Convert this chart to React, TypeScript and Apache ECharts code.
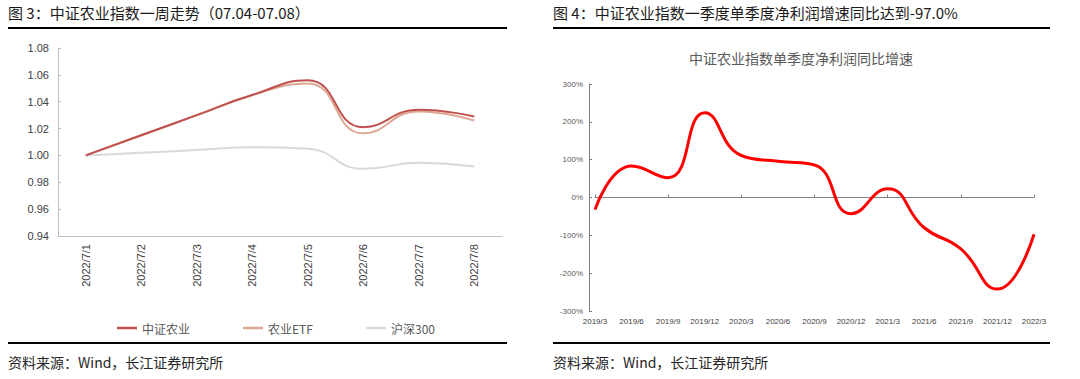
import React, { useEffect, useRef } from "react";
import * as echarts from "echarts";

const dates = ["2022/7/1", "2022/7/2", "2022/7/3", "2022/7/4", "2022/7/5", "2022/7/6", "2022/7/7", "2022/7/8"];
const csAgri = [1.0, 1.015, 1.03, 1.045, 1.056, 1.021, 1.034, 1.029];
const agriEtf = [1.0, 1.015, 1.03, 1.045, 1.0535, 1.0165, 1.0328, 1.026];
const hs300 = [1.0, 1.002, 1.004, 1.006, 1.005, 0.99, 0.9945, 0.9918];
const leftTicks = { min: 0.94, max: 1.08, step: 0.02 };

const quarters = ["2019/3", "2019/6", "2019/9", "2019/12", "2020/3", "2020/6", "2020/9", "2020/12", "2021/3", "2021/6", "2021/9", "2021/12", "2022/3"];
const profitGrowth = [-32, 83, 52, 224, 111, 96, 86, -43, 23, -80, -136, -242, -97];
const rightTicks = { min: -300, max: 300, step: 100 };

const FONT = '"Liberation Sans", "Noto Sans CJK SC", sans-serif';
const CJK = '"Noto Sans CJK SC", "Liberation Sans", sans-serif';

export default function App() {
  const ref = useRef<HTMLDivElement>(null);
  useEffect(() => {
    document.body.style.margin = "0";
    const chart = echarts.init(ref.current!, null, { renderer: "svg" });
    const legendBase = {
      top: 317,
      icon: "rect",
      itemWidth: 20,
      itemHeight: 2.5,
      textStyle: { fontSize: 12, color: "#595959", fontFamily: CJK },
    };
    chart.setOption({
      animation: false,
      textStyle: { fontFamily: FONT },
      graphic: [
        { type: "text", left: 8, top: 5, style: { text: "图 3：中证农业指数一周走势（07.04-07.08）", font: `15px ${CJK}`, fill: "#1a1a1a" } },
        { type: "text", left: 553, top: 5, style: { text: "图 4：中证农业指数一季度单季度净利润增速同比达到-97.0%", font: `15px ${CJK}`, fill: "#1a1a1a" } },
        { type: "line", shape: { x1: 8, y1: 28, x2: 507, y2: 28 }, style: { stroke: "#000", lineWidth: 2 } },
        { type: "line", shape: { x1: 553, y1: 28, x2: 1050, y2: 28 }, style: { stroke: "#000", lineWidth: 2 } },
        { type: "line", shape: { x1: 8, y1: 343, x2: 507, y2: 343 }, style: { stroke: "#000", lineWidth: 2 } },
        { type: "line", shape: { x1: 553, y1: 343, x2: 1050, y2: 343 }, style: { stroke: "#000", lineWidth: 2 } },
        { type: "text", left: 8, top: 355, style: { text: "资料来源：Wind，长江证券研究所", font: `14px ${CJK}`, fill: "#262626" } },
        { type: "text", left: 553, top: 355, style: { text: "资料来源：Wind，长江证券研究所", font: `14px ${CJK}`, fill: "#262626" } },
        { type: "text", x: 801, y: 58, style: { text: "中证农业指数单季度净利润同比增速", font: `14px ${CJK}`, fill: "#595959", align: "center", verticalAlign: "middle" } },
      ],
      legend: [
        { ...legendBase, left: 112, data: ["中证农业"] },
        { ...legendBase, left: 238, data: ["农业ETF"] },
        { ...legendBase, left: 361, data: ["沪深300"] },
      ],
      grid: [
        { left: 58, right: 578, top: 48, bottom: 143 },
        { left: 595, right: 46, top: 84, bottom: 68 },
      ],
      xAxis: [
        {
          type: "category",
          gridIndex: 0,
          data: dates,
          boundaryGap: true,
          axisLine: { lineStyle: { color: "#BFBFBF" } },
          axisTick: { inside: true, length: 3, interval: 0, lineStyle: { color: "#BFBFBF" } },
          axisLabel: { rotate: 90, margin: 8, fontSize: 11, color: "#404040", interval: 0 },
        },
        {
          type: "category",
          gridIndex: 1,
          data: quarters,
          boundaryGap: false,
          position: "bottom",
          axisLine: { onZero: true, lineStyle: { color: "#808080" } },
          axisTick: { inside: true, length: 3, lineStyle: { color: "#808080" } },
          axisLabel: { show: false },
        },
        {
          type: "category",
          gridIndex: 1,
          data: quarters,
          boundaryGap: false,
          position: "bottom",
          axisLine: { show: false, onZero: false },
          axisTick: { show: false },
          axisLabel: { margin: 6, fontSize: 8, color: "#404040", interval: 0 },
        },
      ],
      yAxis: [
        {
          type: "value",
          gridIndex: 0,
          min: leftTicks.min,
          max: leftTicks.max,
          interval: leftTicks.step,
          axisLine: { show: true, lineStyle: { color: "#BFBFBF" } },
          axisTick: { show: true, inside: true, length: 3, lineStyle: { color: "#BFBFBF" } },
          splitLine: { show: false },
          axisLabel: { fontSize: 11, color: "#404040", margin: 9, formatter: (v: number) => v.toFixed(2) },
        },
        {
          type: "value",
          gridIndex: 1,
          min: rightTicks.min,
          max: rightTicks.max,
          interval: rightTicks.step,
          offset: 6,
          axisLine: { show: true, lineStyle: { color: "#808080" } },
          axisTick: { show: true, inside: true, length: 3, lineStyle: { color: "#808080" } },
          splitLine: { show: false },
          axisLabel: { fontSize: 8, color: "#595959", margin: 6, formatter: "{value}%" },
        },
      ],
      series: [
        {
          name: "沪深300",
          type: "line",
          xAxisIndex: 0,
          yAxisIndex: 0,
          data: hs300,
          smooth: 0.5,
          showSymbol: false,
          lineStyle: { width: 2, color: "#D9D9D9" },
          itemStyle: { color: "#D9D9D9" },
        },
        {
          name: "农业ETF",
          type: "line",
          xAxisIndex: 0,
          yAxisIndex: 0,
          data: agriEtf,
          smooth: 0.5,
          showSymbol: false,
          lineStyle: { width: 2, color: "#DDA894" },
          itemStyle: { color: "#DDA894" },
        },
        {
          name: "中证农业",
          type: "line",
          xAxisIndex: 0,
          yAxisIndex: 0,
          data: csAgri,
          smooth: 0.5,
          showSymbol: false,
          lineStyle: { width: 2, color: "#C0504D" },
          itemStyle: { color: "#C0504D" },
        },
        {
          name: "净利润同比增速",
          type: "line",
          xAxisIndex: 1,
          yAxisIndex: 1,
          data: profitGrowth,
          smooth: 0.5,
          showSymbol: false,
          lineStyle: { width: 3, color: "#FF0000" },
          itemStyle: { color: "#FF0000" },
        },
      ],
    });
    return () => chart.dispose();
  }, []);
  return <div ref={ref} style={{ position: "fixed", left: 0, top: 0, width: 1080, height: 379, background: "#fff" }} />;
}
